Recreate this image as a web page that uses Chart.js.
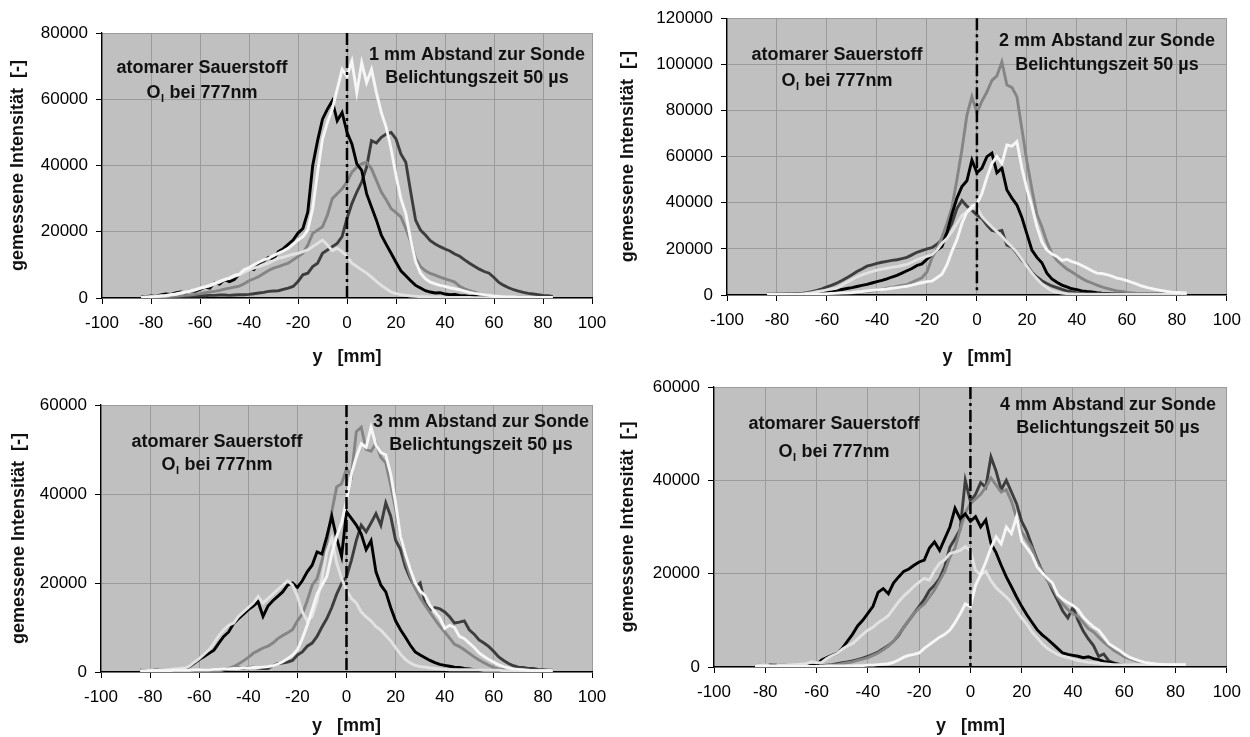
<!DOCTYPE html>
<html>
<head>
<meta charset="utf-8">
<script src="https://cdn.jsdelivr.net/npm/chart.js@4.4.0/dist/chart.umd.min.js"></script>
<style>
  html, body { margin: 0; padding: 0; background: #ffffff; width: 1250px; height: 737px; overflow: hidden; }
  canvas { position: absolute; display: block; }
</style>
</head>
<body>
<canvas id="c1" width="625" height="368" style="left:0px;top:0px"></canvas>
<canvas id="c2" width="640" height="368" style="left:610px;top:0px"></canvas>
<canvas id="c3" width="625" height="369" style="left:0px;top:368px"></canvas>
<canvas id="c4" width="640" height="369" style="left:610px;top:368px"></canvas>
<script>
// Radial position y [mm] of every profile sample
const yPos = [
  -84,-82,-80,-78,-76,-74,-72,-70,-68,-66,
  -64,-62,-60,-58,-56,-54,-52,-50,-48,-46,
  -44,-42,-40,-38,-36,-34,-32,-30,-28,-26,
  -24,-22,-20,-18,-16,-14,-12,-10,-8,-6,
  -4,-2,0,2,4,6,8,10,12,14,
  16,18,20,22,24,26,28,30,32,34,
  36,38,40,42,44,46,48,50,52,54,
  56,58,60,62,64,66,68,70,72,74,
  76,78,80,82,84
];

// Axis ticks
const xTicks = [-100,-80,-60,-40,-20,0,20,40,60,80,100];
const yMaxTop = [80000, 120000];
const yMaxBottom = [60000, 60000];

// Labels
const speciesLine1 = 'atomarer Sauerstoff';
const speciesLine2 = ['O', 'I', ' bei 777nm'];
const distanceLabels = ['1 mm Abstand zur Sonde', '2 mm Abstand zur Sonde', '3 mm Abstand zur Sonde', '4 mm Abstand zur Sonde'];
const exposureLabel = 'Belichtungszeit 50 µs';
const yAxisTitle = 'gemessene Intensität  [-]';
const xAxisTitle = 'y   [mm]';

// ---- 1 mm distance ----
const p1White = [
  200,300,400,500,700,800,1000,1200,1500,1800,
  2200,2500,3000,3400,3800,4500,5000,5600,6000,6800,
  7200,8500,9200,10000,10800,11500,12000,12800,13500,14200,
  15000,16200,17500,18500,20500,27000,38000,48000,53000,57000,
  63000,69000,67000,71500,62000,71000,65000,69000,62000,56000,
  51500,45000,37000,30000,25500,17500,11000,7500,5800,4800,
  4300,3800,3500,3100,2800,2500,2100,1700,1400,1200,
  1000,800,600,500,400,300,300,200,200,200,
  200,200,200,200,200
];
const p1Light = [
  200,200,300,400,500,600,900,1000,1400,1700,
  2000,2400,2900,3300,3700,4200,4800,5500,6000,6500,
  7000,7800,8500,9000,9500,10000,10500,11300,12000,12300,
  12800,13200,13500,14000,14500,15500,16500,17500,16000,14300,
  15000,14000,12500,10500,9500,8500,7500,6300,5000,3800,
  2800,1800,1300,1000,800,600,500,400,400,300,
  300,300,200,200,200,200,200,200,100,100,
  100,100,100,100,100,100,100,100,100,100,
  100,100,100,100,100
];
const p1Black = [
  300,400,600,500,900,1200,1100,1500,1800,1600,
  2200,2000,2600,3300,3000,4600,4200,5500,4900,5600,
  7200,7900,9000,8600,10500,11200,12300,11800,14000,14900,
  16200,17500,19600,21000,26000,40000,47500,54000,57000,59500,
  53500,56000,50000,46500,40500,38500,31500,27500,23500,19000,
  16200,13500,10800,8200,6700,5200,3800,3000,2200,1800,
  1500,1600,1200,1000,1100,800,700,500,600,400,
  300,200,200,200,100,100,100,100,100,100,
  100,100,100,100,100
];
const p1Gray = [
  100,100,200,200,300,300,500,600,700,800,
  900,1100,1300,1600,1800,2000,2300,2700,3000,3300,
  3600,4300,5200,5800,6500,7400,8300,9000,9500,10000,
  10500,11500,12500,13500,16000,19500,20500,21500,25000,30000,
  31500,33000,35000,38000,39500,40500,41000,39000,35500,32000,
  29700,27000,25800,24500,21000,17000,12000,9500,8200,7400,
  6900,6300,5800,5300,4800,3500,2800,2200,1800,1300,
  1000,700,500,400,300,200,200,100,100,100,
  100,100,100,100,100
];
const p1Dark = [
  100,100,200,200,300,300,400,400,500,500,
  600,600,700,700,800,800,900,900,800,900,
  1000,1000,1100,1300,1500,1700,2000,2100,2200,2600,
  3000,3500,5000,7000,7500,9500,10500,13500,14500,15500,
  16500,18500,24000,28500,32000,35000,39500,47500,46800,48500,
  49500,50000,48000,43500,41000,32000,23500,20500,19000,17300,
  16300,15500,14800,14200,13300,12600,11500,10500,9600,8700,
  8000,7500,6200,4700,3800,3100,2500,2100,1700,1400,
  1200,1000,800,700,500
];

// ---- 2 mm distance ----
const p2White = [
  100,100,100,200,200,200,200,300,300,300,
  400,500,600,700,800,900,1000,1100,1300,1500,
  1800,2000,2200,2400,2600,2900,3200,3500,3800,4300,
  4800,5300,5800,6000,7500,9000,13000,19000,24000,31000,
  36000,38500,39500,44000,51000,57000,60000,57000,65000,64500,
  66500,55000,46000,38500,29700,23000,19500,17800,16700,15000,
  15500,14500,13800,12800,11700,10500,9500,9300,8800,8200,
  7300,6900,6200,5500,4700,3900,3300,2800,2300,1900,
  1500,1200,1100,1000,900
];
const p2Light = [
  200,200,300,300,300,300,400,400,700,1000,
  1400,1800,2200,2600,3000,4200,5500,6700,7800,8700,
  9500,10100,10800,11200,11600,12000,12300,12800,13300,14200,
  15200,16000,16800,17500,19500,22500,24500,27500,31000,34500,
  36000,37500,38000,34000,31700,29500,27500,25500,23000,21000,
  18500,15500,12500,9500,7000,4800,3200,1800,1200,800,
  600,500,400,400,300,300,300,300,300,300,
  300,300,300,300,300,300,300,300,300,300,
  300,300,300,300,300
];
const p2Black = [
  200,200,300,300,300,400,400,500,600,700,
  900,1100,1300,1700,2000,2400,2800,3200,3700,4200,
  4600,5200,5800,6300,7000,7800,8500,9500,10500,11500,
  12800,13500,15500,17500,19500,21000,27000,35000,42000,47000,
  49500,58500,53000,55000,60000,61500,53000,55000,45500,42000,
  39000,33600,26500,19500,16300,14000,9500,7000,5500,4300,
  3500,2700,2300,1800,1500,1300,1000,800,700,600,
  500,500,400,400,400,300,300,300,300,300,
  300,300,300,300,300
];
const p2Gray = [
  200,200,200,300,300,300,300,300,300,300,
  300,400,500,600,700,800,900,1000,1100,1300,
  1500,1700,2000,2500,3000,3300,3700,4200,4500,5500,
  6500,7500,10000,16000,20000,25000,31000,38000,50000,63000,
  78000,86000,79000,84000,88000,93000,95000,101000,91000,90000,
  86000,72000,58000,46000,35000,29500,23000,18000,15000,13000,
  11300,10000,8600,7200,6000,5200,4300,3500,2900,2300,
  1800,1500,1100,900,700,600,600,500,500,500,
  400,400,400,400,400
];
const p2Dark = [
  300,300,400,400,500,500,600,700,1000,1400,
  2000,2700,3500,4300,5200,6300,7500,8800,10200,11300,
  12500,13100,13700,14200,14600,15000,15300,15800,16300,17400,
  18500,19200,20000,20500,22000,24000,27000,31000,37500,41000,
  38500,36800,34600,33200,30300,28000,27500,28000,21600,20800,
  18000,15000,13000,9800,7800,6200,5000,3900,3200,2400,
  1800,1300,900,700,600,500,400,300,300,300,
  300,300,300,300,300,300,300,300,300,300,
  300,300,300,300,300
];

// ---- 3 mm distance ----
const p3White = [
  200,200,200,300,300,300,300,400,400,400,
  400,500,500,500,500,600,600,700,700,800,
  800,900,900,1000,1000,1100,1200,1400,1800,2300,
  3000,3800,5000,7500,10500,14000,17500,19500,21500,26500,
  30500,33500,38500,44500,48300,51300,50500,55000,51000,49300,
  48800,44500,38000,30500,26500,23000,20000,18200,17200,15000,
  13500,12200,9800,10500,10000,8000,7500,6500,5500,4300,
  3500,2800,2200,1600,1200,900,700,600,500,400,
  300,300,300,300,300
];
const p3Light = [
  300,300,400,400,500,500,600,700,800,900,
  1300,2200,3000,4000,5000,6500,8200,9500,10500,11000,
  12500,13500,14500,15500,17000,15500,16500,17500,18500,19500,
  20500,19500,17000,13500,11500,12500,16000,21000,27000,30000,
  24500,21000,18400,16500,15500,13500,12400,11500,10200,9400,
  8200,7000,5500,4000,2800,2000,1500,1200,1100,900,
  800,700,600,500,500,500,500,500,500,500,
  400,400,400,400,300,300,300,300,300,300,
  300,300,300,300,300
];
const p3Black = [
  400,300,300,400,500,400,400,500,700,800,
  1200,2000,2800,3500,4200,4900,6500,8000,9000,10900,
  12000,13000,14000,14800,15800,12500,14800,16000,17000,18000,
  19500,20000,19000,20500,22500,24000,27000,26500,30500,35000,
  30000,26000,36000,34500,33000,31000,27500,29500,22500,19500,
  18000,14500,11500,9500,7800,6000,4500,3800,3200,2600,
  2100,1700,1500,1300,1100,1000,800,700,500,400,
  300,200,200,200,200,200,200,200,200,200,
  200,200,200,200,200
];
const p3Gray = [
  100,100,100,100,100,100,100,200,200,200,
  200,200,200,200,200,200,200,500,800,1200,
  1800,2500,3300,4200,4800,5400,5800,6500,7500,8200,
  8800,9500,11500,13000,16000,19500,21000,25000,29000,36000,
  41600,42300,45700,44000,54000,55000,50000,49600,51400,48200,
  47000,42000,36500,30500,25000,21500,18800,16700,15000,13400,
  11800,10300,9000,7600,6200,5700,5000,4200,3400,2700,
  2100,1500,1000,700,500,300,300,300,300,300,
  300,300,300,300,300
];
const p3Dark = [
  300,300,300,400,400,300,300,400,400,300,
  300,400,400,500,500,500,600,600,700,800,
  900,800,1000,1100,900,800,800,1400,1900,2000,
  2200,2600,3800,4500,5800,6500,8000,10100,12000,14500,
  17500,19900,21400,25100,29600,33000,31500,33500,35600,33000,
  38000,35000,29600,27500,23600,21000,19000,20000,15400,13900,
  14500,14200,13500,12400,11000,11200,11500,9500,8500,7200,
  6500,5700,4600,3400,2600,1900,1400,1100,1000,800,
  800,600,500,400,400
];

// ---- 4 mm distance ----
const p4White = [
  100,100,100,100,100,100,100,100,100,100,
  100,100,100,100,200,200,200,200,200,200,
  300,300,400,400,500,600,700,1000,1500,2100,
  2500,2700,3000,4000,4800,5600,6400,7000,7900,9500,
  11400,13500,13000,17500,19800,22500,25500,27900,26400,30000,
  28600,32200,27000,25500,24000,21500,20200,19000,18000,15500,
  14500,13800,13200,12300,10700,9600,8600,7900,6500,5000,
  4300,3600,2800,2100,1700,1300,1000,800,700,600,
  500,500,500,500,500
];
const p4Light = [
  300,400,400,300,300,400,400,500,500,600,
  700,1100,900,1000,1800,2400,2900,3800,4500,5000,
  6000,7000,7900,8500,9500,10200,11000,12500,14000,15200,
  16200,17300,18200,19000,18600,20700,22200,23000,24300,24600,
  25000,25800,25000,20700,19800,20500,18500,17000,16000,15000,
  13800,12000,10500,9200,7500,6300,5000,4000,3300,2700,
  2300,2000,1700,1400,1200,1000,900,800,700,600,
  500,500,500,500,500,500,500,500,500,500,
  500,500,500,500,500
];
const p4Black = [
  300,300,300,400,400,300,300,400,300,300,
  400,300,500,1500,2000,2500,2900,4000,5500,7000,
  8800,10000,11500,13000,16000,16800,15700,18000,19300,20500,
  21000,21800,22500,22900,25500,26800,25000,27500,30000,34000,
  31800,32800,31200,32200,30000,31500,26500,24500,21800,19300,
  17200,15000,13000,11200,9600,8000,6900,6000,5000,4000,
  3000,2700,2500,2300,2000,2200,1800,1600,1200,1000,
  700,500,300,300,300,300,300,300,300,300,
  300,300,300,300,300
];
const p4Gray = [
  200,200,300,200,300,200,300,200,300,300,
  300,300,300,300,300,400,500,700,900,1100,
  1400,1700,2000,2500,3000,3700,4500,5500,7000,8500,
  10000,11500,12600,13500,15000,16500,18500,20500,23500,25500,
  29500,33000,35000,36000,37000,38500,40500,39000,37500,38000,
  35500,32000,29000,27200,25500,22500,20500,18600,17000,15000,
  13500,12300,11400,10800,9500,8200,7500,6400,5300,4400,
  3500,2900,2200,1800,1400,1100,900,700,700,600,
  400,400,400,400,400
];
const p4Dark = [
  300,400,300,400,300,400,400,300,300,300,
  300,300,300,300,400,500,700,900,1100,1300,
  1600,1900,2300,2700,3200,3900,4600,5500,6800,8500,
  10000,11500,13000,14500,16400,17500,19000,21500,25700,27500,
  29500,40000,35500,37000,39500,38500,45000,42000,38000,40000,
  37500,35000,31200,29000,26000,23000,20500,18800,16400,14300,
  12000,10500,12800,10000,7700,6000,4600,2300,2800,1300,
  900,600,400,400,300,300,300,300,300,300,
  300,300,300,300,300
];

// Line colours of the five profiles
const lineColors = { white: '#f6f6f6', light: '#e2e2e2', black: '#000000', gray: '#858585', dark: '#3d3d3d' };

const FONT = "'Liberation Sans', Arial, Helvetica, sans-serif";

// Panel layout: plot area offsets inside each canvas and text placements
const panels = [
  { id: 'c1', yMax: yMaxTop[0], series: { white: p1White, light: p1Light, black: p1Black, gray: p1Gray, dark: p1Dark },
    axisW: 102, axisH: 70, padTop: 33, padRight: 33, titlePad: 7,
    dist: distanceLabels[0], left: [100, 35, 60], right: [375, 22, 45] },
  { id: 'c2', yMax: yMaxTop[1], series: { white: p2White, light: p2Light, black: p2Black, gray: p2Gray, dark: p2Dark },
    axisW: 117, axisH: 73, padTop: 17, padRight: 23, titlePad: 7,
    dist: distanceLabels[1], left: [110, 37, 63], right: [380, 23, 47] },
  { id: 'c3', yMax: yMaxBottom[0], series: { white: p3White, light: p3Light, black: p3Black, gray: p3Gray, dark: p3Dark },
    axisW: 101, axisH: 65, padTop: 37, padRight: 33, titlePad: 8,
    dist: distanceLabels[2], left: [116, 37, 60], right: [380, 17, 40] },
  { id: 'c4', yMax: yMaxBottom[1], series: { white: p4White, light: p4Light, black: p4Black, gray: p4Gray, dark: p4Dark },
    axisW: 104, axisH: 70, padTop: 19, padRight: 23, titlePad: 7,
    dist: distanceLabels[3], left: [120, 37, 65], right: [394, 18, 41] }
];

// Grey plot background, dash-dot centre line at y = 0 and the text blocks
const panelDecor = {
  id: 'panelDecor',
  beforeDraw(chart) {
    const a = chart.chartArea;
    const ctx = chart.ctx;
    ctx.save();
    ctx.fillStyle = '#c0c0c0';
    ctx.fillRect(a.left, a.top, a.right - a.left, a.bottom - a.top);
    ctx.restore();
  },
  afterDatasetsDraw(chart, args, opts) {
    const a = chart.chartArea;
    const ctx = chart.ctx;
    const x0 = chart.scales.x.getPixelForValue(0);
    ctx.save();
    ctx.strokeStyle = '#000000';
    ctx.lineWidth = 2.5;
    ctx.setLineDash([12, 4, 3, 4]);
    ctx.beginPath();
    ctx.moveTo(x0, a.top);
    ctx.lineTo(x0, a.bottom);
    ctx.stroke();
    ctx.setLineDash([]);

    ctx.fillStyle = '#111111';
    ctx.textBaseline = 'middle';
    ctx.textAlign = 'center';
    const big = 'bold 18px ' + FONT;
    const small = 'bold 11px ' + FONT;
    ctx.font = big;
    // species block
    const lx = a.left + opts.left[0];
    ctx.fillText(speciesLine1, lx, a.top + opts.left[1]);
    const wO = ctx.measureText(speciesLine2[0]).width;
    const wRest = ctx.measureText(speciesLine2[2]).width;
    ctx.font = small;
    const wI = ctx.measureText(speciesLine2[1]).width + 1;
    const total = wO + wI + wRest;
    let sx = lx - total / 2;
    const ly = a.top + opts.left[2];
    ctx.textAlign = 'left';
    ctx.font = big;
    ctx.fillText(speciesLine2[0], sx, ly);
    ctx.font = small;
    ctx.fillText(speciesLine2[1], sx + wO + 0.5, ly + 6);
    ctx.font = big;
    ctx.fillText(speciesLine2[2], sx + wO + wI, ly);
    // distance / exposure block
    ctx.textAlign = 'center';
    const rx = a.left + opts.right[0];
    ctx.fillText(opts.dist, rx, a.top + opts.right[1]);
    ctx.fillText(exposureLabel, rx, a.top + opts.right[2]);
    ctx.restore();
  }
};

const drawOrder = ['white', 'light', 'black', 'gray', 'dark'];

panels.forEach(p => {
  const datasets = drawOrder.map(key => ({
    label: key,
    data: yPos.map((x, i) => ({ x: x, y: p.series[key][i] })),
    borderColor: lineColors[key],
    backgroundColor: lineColors[key],
    borderWidth: 2.9,
    pointRadius: 0,
    tension: 0,
    fill: false
  }));

  new Chart(document.getElementById(p.id), {
    type: 'line',
    data: { datasets: datasets },
    plugins: [panelDecor],
    options: {
      responsive: false,
      animation: false,
      devicePixelRatio: 1,
      events: [],
      layout: { padding: { left: 0, top: p.padTop, right: p.padRight, bottom: 0 } },
      plugins: {
        legend: { display: false },
        tooltip: { enabled: false },
        panelDecor: { left: p.left, right: p.right, dist: p.dist }
      },
      scales: {
        x: {
          type: 'linear',
          min: -100, max: 100,
          afterBuildTicks(scale) { scale.ticks = xTicks.map(v => ({ value: v })); },
          afterFit(scale) { scale.height = p.axisH; },
          ticks: { color: '#000', font: { family: FONT, size: 17 }, padding: 9, maxRotation: 0, autoSkip: false,
                   callback: v => String(v) },
          grid: { color: '#9b9b9b', lineWidth: 1, tickColor: '#000', tickLength: 6, drawTicks: true },
          border: { display: true, color: '#000', width: 1.3 },
          title: { display: true, text: xAxisTitle, color: '#111', font: { family: FONT, size: 18, weight: 'bold' },
                   padding: { top: 0, bottom: 0 } }
        },
        y: {
          type: 'linear',
          min: 0, max: p.yMax,
          ticks: { stepSize: 20000, color: '#000', font: { family: FONT, size: 17 }, padding: 8,
                   callback: v => String(v) },
          afterFit(scale) { scale.width = p.axisW; },
          grid: { color: '#9b9b9b', lineWidth: 1, tickColor: '#000', tickLength: 6, drawTicks: true },
          border: { display: true, color: '#000', width: 1.3 },
          title: { display: true, text: yAxisTitle, color: '#111', font: { family: FONT, size: 18, weight: 'bold' },
                   padding: { top: p.titlePad, bottom: 0 } }
        }
      }
    }
  });
});
</script>
</body>
</html>
